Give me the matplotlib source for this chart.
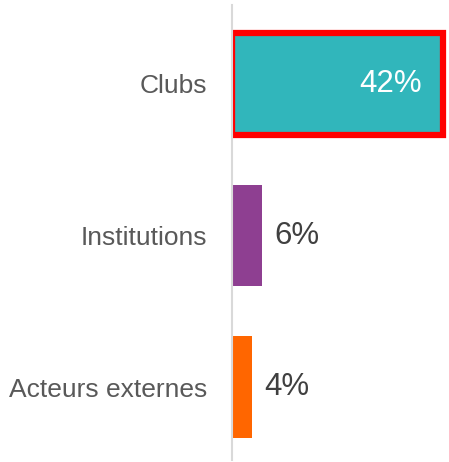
import matplotlib
matplotlib.use("Agg")
import matplotlib.pyplot as plt

categories = ["Clubs", "Institutions", "Acteurs externes"]
values = [42, 6, 4]
labels = ["42%", "6%", "4%"]
colors = ["#31B6BB", "#8E3F91", "#FF6600"]

plt.rcParams['font.family'] = ['Liberation Sans', 'DejaVu Sans']

fig = plt.figure(figsize=(4.49, 4.62), dpi=100)
W, H = 449, 462
ax = fig.add_axes([232 / W, (H - 460) / H, (W - 232) / W, 455 / H])

ypos = [2, 1, 0]
bars = ax.barh(ypos, values, height=0.67, color=colors, zorder=2)
# highlight first bar
bars[0].set_edgecolor("#FF0000")
bars[0].set_linewidth(4.5)

ax.set_xlim(0, 217 / 5.03)
ax.set_ylim(-0.48, 2.52)

for y, v, lab in zip(ypos, values, labels):
    if v > 20:
        ax.text(v - 4.2, y, lab, ha="right", va="center", color="white", fontsize=22.5)
    else:
        ax.text(v + 2.4, y, lab, ha="left", va="center", color="#404040", fontsize=22.5)

ax.set_yticks(ypos)
ax.set_yticklabels(categories, fontsize=19, color="#595959")
ax.tick_params(axis="y", length=0, pad=18)
ax.set_xticks([])
for s in ["top", "right", "bottom"]:
    ax.spines[s].set_visible(False)
ax.spines["left"].set_color("#D9D9D9")
ax.spines["left"].set_linewidth(1.5)

fig.savefig("out.png", dpi=100)
